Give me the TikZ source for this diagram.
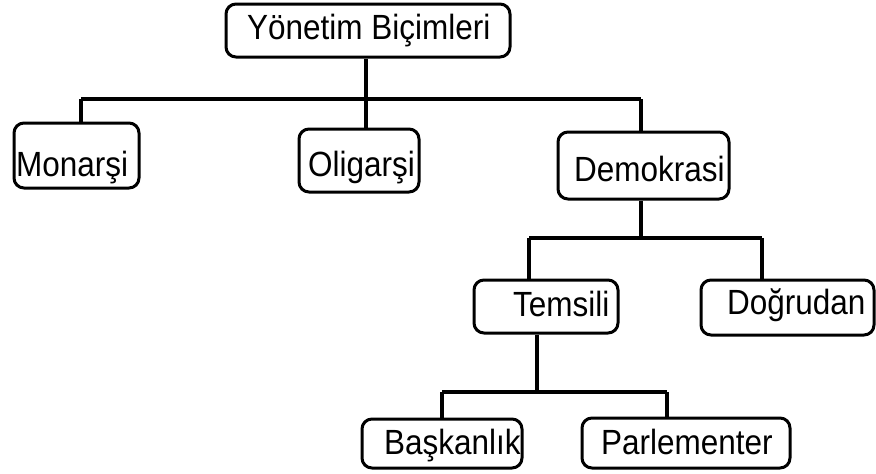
\documentclass[tikz,border=0pt]{standalone}
\usepackage{fontspec}
\setmainfont{Liberation Sans}
\begin{document}
\begin{tikzpicture}[x=1pt,y=-1pt,
  box/.style={draw=black, line width=3pt, rounded corners=10pt, rectangle, inner sep=0pt},
  lbl/.style={anchor=base west, inner sep=0pt, xscale=0.9, font=\fontsize{35}{35}\selectfont},
  link/.style={draw=black, line width=3.3pt}]
\useasboundingbox (0,0) rectangle (876,474);

% boxes
\node[box, minimum width=284pt, minimum height=53pt] (top) at (368,30.5) {};
\node[box, minimum width=125pt, minimum height=65pt] (mon) at (76.5,155.5) {};
\node[box, minimum width=120pt, minimum height=63pt] (oli) at (359,160.5) {};
\node[box, minimum width=171pt, minimum height=67pt] (dem) at (643.5,165.5) {};
\node[box, minimum width=144pt, minimum height=53pt] (tem) at (546,306.5) {};
\node[box, minimum width=173pt, minimum height=55pt] (dog) at (787.5,307.5) {};
\node[box, minimum width=160pt, minimum height=49pt] (bas) at (442,443.5) {};
\node[box, minimum width=208pt, minimum height=50pt] (par) at (686,443) {};

% labels
\node[lbl] (tTop) at (247,39) {Yönetim Biçimleri};
\node[lbl] (tMon) at (16,176) {Monarşi};
\node[lbl] (tOli) at (308,176) {Oligarşi};
\node[lbl] (tDem) at (574,181) {Demokrasi};
\node[lbl] (tTem) at (513,316) {Temsili};
\node[lbl] (tDog) at (727,314) {Doğrudan};
\node[lbl] (tBas) at (384,454) {Başkanlık};
\node[lbl] (tPar) at (601,454) {Parlementer};

% junction points
\coordinate (a) at (366,99);
\coordinate (a1) at (81,99);
\coordinate (a2) at (641,99);
\coordinate (b) at (641,238);
\coordinate (b1) at (529,238);
\coordinate (b2) at (762,238);
\coordinate (c) at (537,392);
\coordinate (c1) at (442,392);
\coordinate (c2) at (667,392);

% first level
\draw[link] (a |- top.south) -- (a |- oli.north);
\draw[link] (a1) -- (a2);
\draw[link] (a1) -- (a1 |- mon.north);
\draw[link] (a2) -- (a2 |- dem.north);

% second level
\draw[link] (b |- dem.south) -- (b);
\draw[link] (b1) -- (b2);
\draw[link] (b1) -- (b1 |- tem.north);
\draw[link] (b2) -- (b2 |- dog.north);

% third level
\draw[link] (c |- tem.south) -- (c);
\draw[link] (c1) -- (c2);
\draw[link] (c1) -- (c1 |- bas.north);
\draw[link] (c2) -- (c2 |- par.north);
\end{tikzpicture}
\end{document}
